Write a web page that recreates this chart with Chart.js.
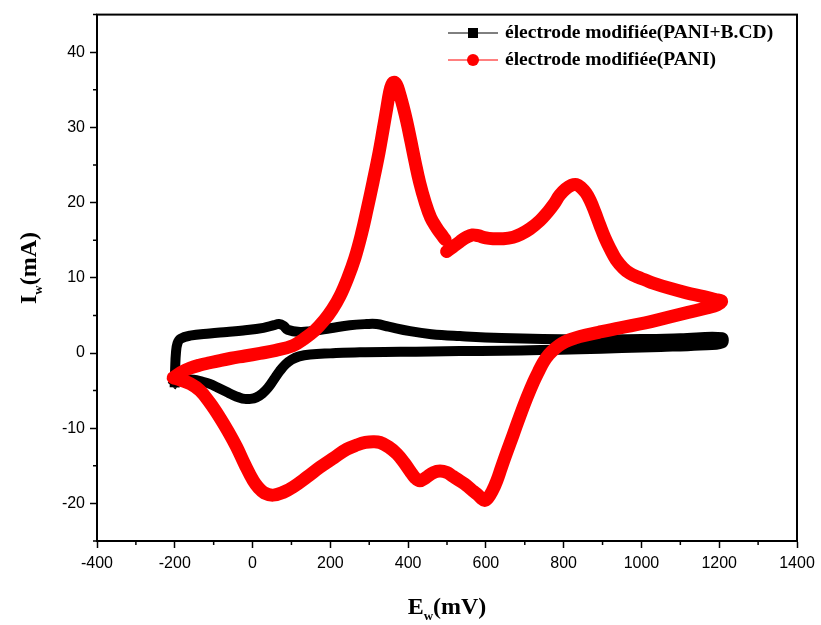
<!DOCTYPE html>
<html>
<head>
<meta charset="utf-8">
<script src="https://cdn.jsdelivr.net/npm/chart.js@4/dist/chart.umd.min.js"></script>
<style>
  html, body { margin: 0; padding: 0; background: #fff; }
  #wrap { width: 821px; height: 625px; position: relative; }
</style>
</head>
<body>
<div id="wrap"><canvas id="cv"></canvas></div>
<script>
// series labels
const seriesLabels = ['électrode modifiée(PANI+B.CD)', 'électrode modifiée(PANI)'];

// PANI (red) - forward scan, first part up to the break near 500 mV
const redFwdE1 = [-204, -185, -160, -135, -110, -84, -55, -20, 19, 60, 105, 130, 160, 185, 205, 225, 245, 263, 280, 295, 310, 325, 336, 345, 352, 358, 364, 370, 377, 386, 396, 407, 418, 430, 443, 458, 474, 485, 495];
const redFwdI1 = [-3.3, -2.6, -2.0, -1.6, -1.3, -1.0, -0.7, -0.4, -0.05, 0.35, 1.0, 1.8, 3.0, 4.4, 5.8, 7.6, 10.0, 12.6, 15.8, 19.2, 22.8, 26.6, 29.8, 32.5, 34.6, 35.7, 36.0, 35.7, 34.7, 33.0, 30.9, 28.2, 25.4, 22.6, 20.2, 18.0, 16.6, 15.8, 15.1];
// PANI (red) - forward scan, second part
const redFwdE2 = [499, 515, 533, 550, 565, 580, 600, 620, 645, 670, 690, 713, 739, 760, 775, 790, 805, 820, 833, 845, 857, 868, 880, 893, 906, 919, 935, 953, 970, 990, 1010, 1030, 1073, 1116, 1160, 1190, 1206];
const redFwdI2 = [13.5, 14.1, 14.8, 15.4, 15.7, 15.6, 15.3, 15.2, 15.2, 15.4, 15.8, 16.5, 17.6, 18.8, 19.8, 21.0, 21.8, 22.3, 22.4, 22.0, 21.3, 20.3, 18.8, 17.0, 15.3, 13.9, 12.4, 11.3, 10.6, 10.1, 9.7, 9.3, 8.6, 8.0, 7.5, 7.1, 6.9];
// PANI (red) - reverse scan
const redRevE = [1195, 1168, 1120, 1073, 1010, 945, 890, 842, 815, 795, 778, 762, 748, 735, 722, 705, 688, 670, 653, 640, 628, 616, 605, 597, 588, 578, 568, 550, 533, 515, 500, 482, 465, 445, 430, 418, 405, 390, 371, 350, 328, 310, 290, 270, 242, 210, 173, 140, 105, 80, 53, 30, 15, 2, -20, -41, -62, -84, -110, -135, -160, -185, -204];
const redRevI = [6.4, 6.0, 5.4, 4.8, 4.0, 3.35, 2.75, 2.2, 1.75, 1.25, 0.6, -0.2, -1.2, -2.5, -3.9, -6.0, -8.3, -10.9, -13.3, -15.2, -17.0, -18.4, -19.3, -19.6, -19.3, -18.8, -18.4, -17.6, -17.0, -16.4, -15.9, -15.7, -15.9, -16.6, -17.0, -16.6, -15.7, -14.6, -13.4, -12.5, -11.9, -11.8, -11.9, -12.2, -12.8, -13.9, -15.2, -16.5, -17.8, -18.5, -18.9, -18.6, -17.9, -17.0, -14.8, -12.5, -10.5, -8.6, -6.6, -5.0, -4.1, -3.6, -3.3];

// PANI+B.CD (black) - forward scan
const blkFwdE = [-200, -199, -197, -193, -185, -161, -110, -66, -24, 28, 55, 68, 80, 90, 122, 148, 200, 250, 293, 319, 350, 405, 460, 533, 640, 842, 1000, 1100, 1208];
const blkFwdI = [-3.9, -2.0, 0.0, 1.3, 1.9, 2.3, 2.6, 2.8, 3.0, 3.35, 3.7, 3.85, 3.6, 3.1, 2.8, 2.9, 3.3, 3.7, 3.85, 3.85, 3.5, 2.9, 2.5, 2.25, 2.0, 1.8, 1.85, 1.95, 2.1];
// PANI+B.CD (black) - reverse scan
const blkRevE = [1208, 1150, 1050, 950, 842, 740, 640, 533, 460, 380, 276, 200, 148, 120, 100, 85, 70, 55, 40, 25, 10, -5, -20, -35, -50, -66, -90, -110, -130, -152, -175, -195, -200];
const blkRevI = [1.3, 1.0, 0.8, 0.65, 0.5, 0.4, 0.3, 0.26, 0.2, 0.15, 0.1, -0.05, -0.2, -0.45, -0.9, -1.5, -2.4, -3.5, -4.6, -5.4, -5.9, -6.1, -6.1, -5.9, -5.6, -5.2, -4.6, -4.1, -3.8, -3.55, -3.5, -3.6, -3.9];

// axis ticks
const xTicks = [-400, -200, 0, 200, 400, 600, 800, 1000, 1200, 1400];
const yTicks = [-20, -10, 0, 10, 20, 30, 40];
const xMinorTicks = [-300, -100, 100, 300, 500, 700, 900, 1100, 1300];
const yMinorTicks = [-25, -15, -5, 5, 15, 25, 35, 45];

const toPts = (es, is) => es.map((e, i) => ({ x: e, y: is[i] }));

const redData = [].concat(
    toPts(redFwdE1, redFwdI1),
    [{ x: 497, y: null }],          // break in the recorded trace
    toPts(redFwdE2, redFwdI2),
    toPts(redRevE, redRevI)
);
const blackData = [].concat(toPts(blkFwdE, blkFwdI), toPts(blkRevE, blkRevI));

const SERIF = '"Times New Roman", "Liberation Serif", serif';
const SANS = 'Arial, "Liberation Sans", sans-serif';

// frame, minor ticks, axis titles with subscripts, legend
const decorPlugin = {
    id: 'decor',
    afterDraw(chart) {
        const { ctx, chartArea: a, scales } = chart;
        ctx.save();
        ctx.strokeStyle = '#000';
        ctx.lineWidth = 2;
        ctx.strokeRect(a.left, a.top, a.right - a.left, a.bottom - a.top);

        ctx.lineWidth = 1.5;
        ctx.beginPath();
        xMinorTicks.forEach(v => {
            const px = scales.x.getPixelForValue(v);
            ctx.moveTo(px, a.bottom);
            ctx.lineTo(px, a.bottom + 4);
        });
        yMinorTicks.forEach(v => {
            const py = scales.y.getPixelForValue(v);
            ctx.moveTo(a.left, py);
            ctx.lineTo(a.left - 4, py);
        });
        ctx.stroke();

        // axis titles
        ctx.fillStyle = '#000';
        ctx.textBaseline = 'alphabetic';
        const drawSub = (main, sub, rest, cx, by) => {
            ctx.font = 'bold 24px ' + SERIF;
            const w1 = ctx.measureText(main).width;
            const w3 = ctx.measureText(rest).width;
            ctx.font = 'bold 13px ' + SERIF;
            const w2 = ctx.measureText(sub).width;
            let x = cx - (w1 + w2 + w3) / 2;
            ctx.font = 'bold 24px ' + SERIF;
            ctx.textAlign = 'left';
            ctx.fillText(main, x, by);
            x += w1;
            ctx.font = 'bold 13px ' + SERIF;
            ctx.fillText(sub, x, by + 6);
            x += w2;
            ctx.font = 'bold 24px ' + SERIF;
            ctx.fillText(rest, x, by);
        };
        drawSub('E', 'w', '(mV)', (a.left + a.right) / 2, 614);
        ctx.save();
        ctx.translate(36, 268);
        ctx.rotate(-Math.PI / 2);
        drawSub('I', 'w', '(mA)', 0, 0);
        ctx.restore();

        // legend
        const rows = [
            { y: 33, color: '#000', shape: 'square' },
            { y: 60, color: '#ff0000', shape: 'circle' }
        ];
        rows.forEach((r, i) => {
            ctx.strokeStyle = r.color;
            ctx.fillStyle = r.color;
            ctx.lineWidth = 1;
            ctx.beginPath();
            ctx.moveTo(448, r.y);
            ctx.lineTo(498, r.y);
            ctx.stroke();
            if (r.shape === 'square') {
                ctx.fillRect(468, r.y - 5, 10, 10);
            } else {
                ctx.beginPath();
                ctx.arc(473, r.y, 6, 0, Math.PI * 2);
                ctx.fill();
            }
            ctx.fillStyle = '#000';
            ctx.font = 'bold 19.5px ' + SERIF;
            ctx.textAlign = 'left';
            ctx.textBaseline = 'middle';
            ctx.fillText(seriesLabels[i], 505, r.y);
        });
        ctx.restore();
    }
};

const ctx = document.getElementById('cv').getContext('2d');
new Chart(ctx, {
    type: 'scatter',
    data: {
        datasets: [
            {
                label: seriesLabels[0],
                data: blackData,
                showLine: true,
                borderColor: '#000',
                backgroundColor: '#000',
                borderWidth: 10,
                borderCapStyle: 'square',
                borderJoinStyle: 'round',
                pointRadius: 0,
                tension: 0.4,
                order: 2
            },
            {
                label: seriesLabels[1],
                data: redData,
                showLine: true,
                borderColor: '#ff0000',
                backgroundColor: '#ff0000',
                borderWidth: 13,
                borderCapStyle: 'round',
                borderJoinStyle: 'round',
                pointRadius: 0,
                tension: 0.4,
                spanGaps: false,
                order: 1
            }
        ]
    },
    options: {
        responsive: true,
        maintainAspectRatio: false,
        animation: false,
        layout: { padding: { left: 0, top: 12, right: 24, bottom: 0 } },
        plugins: {
            legend: { display: false },
            tooltip: { enabled: false }
        },
        scales: {
            x: {
                type: 'linear',
                min: -400,
                max: 1400,
                afterBuildTicks: (scale) => { scale.ticks = xTicks.map(v => ({ value: v })); },
                afterFit: (scale) => { scale.height = 84; },
                ticks: {
                    color: '#000',
                    font: { family: SANS, size: 16 },
                    padding: 6,
                    maxRotation: 0,
                    callback: (v) => String(v)
                },
                grid: {
                    drawOnChartArea: false,
                    drawTicks: true,
                    tickLength: 7,
                    tickColor: '#000',
                    tickWidth: 1.5
                },
                border: { color: '#000', width: 2 }
            },
            y: {
                type: 'linear',
                min: -25,
                max: 45,
                afterBuildTicks: (scale) => { scale.ticks = yTicks.map(v => ({ value: v })); },
                afterFit: (scale) => { scale.width = 97; },
                ticks: {
                    color: '#000',
                    font: { family: SANS, size: 16 },
                    padding: 5,
                    callback: (v) => String(v)
                },
                grid: {
                    drawOnChartArea: false,
                    drawTicks: true,
                    tickLength: 7,
                    tickColor: '#000',
                    tickWidth: 1.5
                },
                border: { color: '#000', width: 2 }
            }
        }
    },
    plugins: [decorPlugin]
});
</script>
</body>
</html>
